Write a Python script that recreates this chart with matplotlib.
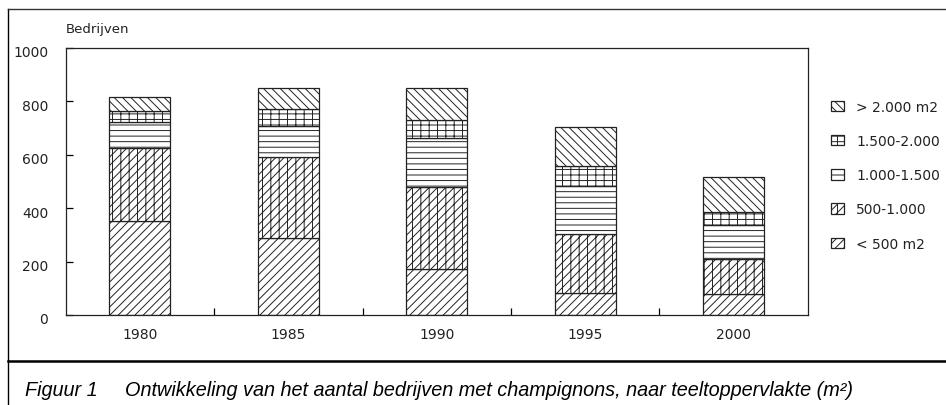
import matplotlib
matplotlib.use("Agg")
import matplotlib.pyplot as plt
from matplotlib.patches import Patch
from matplotlib.lines import Line2D
from matplotlib.transforms import ScaledTranslation
import numpy as np

years = ["1980", "1985", "1990", "1995", "2000"]
lt500 = [352, 287, 171, 84, 77]
s500_1000 = [272, 303, 310, 218, 132]
s1000_1500 = [100, 119, 181, 182, 128]
s1500_2000 = [39, 62, 70, 75, 49]
gt2000 = [55, 78, 118, 144, 131]

series = [lt500, s500_1000, s1000_1500, s1500_2000, gt2000]
labels = ["< 500 m2", "500-1.000", "1.000-1.500", "1.500-2.000", "> 2.000 m2"]
hatches = ["////", "||////", "---", "||---", "\\\\\\\\"]
yticks = [0, 200, 400, 600, 800, 1000]

plt.rcParams['hatch.linewidth'] = 0.7
plt.rcParams['hatch.color'] = '#111111'
plt.rcParams['font.family'] = ['DejaVu Sans']

W, H = 946, 406
fig = plt.figure(figsize=(W / 100, H / 100), dpi=100)

def fx(px):
    return px / W

def fy(py):
    return 1 - py / H

ax = fig.add_axes([fx(65.7), fy(316), fx(807.7) - fx(65.7), fy(49) - fy(316)])

x = np.arange(len(years))
bottom = np.zeros(len(years))
handles = []
for vals, lab, h in zip(series, labels, hatches):
    ax.bar(x, vals, width=0.41, bottom=bottom, facecolor='white',
           edgecolor='#222222', linewidth=0.9, hatch=h)
    bottom += np.array(vals)
    handles.append(Patch(facecolor='white', edgecolor='#222222',
                         linewidth=0.9, hatch=h, label=lab))

ax.set_xlim(-0.5, len(years) - 0.5)
ax.set_ylim(0, 1000)
ax.set_yticks(yticks)
ax.set_yticklabels([str(v) for v in yticks], fontsize=10, color='#222222')
ax.set_xticks(x)
ax.set_xticklabels(years, fontsize=10, color='#222222')
ax.set_xticks(x[:-1] + 0.5, minor=True)
ax.tick_params(axis='x', which='major', length=0, pad=8.5)
ax.tick_params(axis='x', which='minor', direction='in', length=5, width=0.9)
ax.tick_params(axis='y', direction='in', length=5, width=0.9, pad=12.5)
shift = ScaledTranslation(0, -3 / 100, fig.dpi_scale_trans)
for lbl in ax.get_yticklabels():
    lbl.set_transform(lbl.get_transform() + shift)
for sp in ax.spines.values():
    sp.set_linewidth(0.9)
    sp.set_color('#222222')

fig.text(fx(65.7), fy(30), "Bedrijven", fontsize=9.5, va='center', ha='left', color='#222222')

leg = fig.legend(handles[::-1], labels[::-1], loc='upper left',
                 bbox_to_anchor=(fx(831), fy(101)), frameon=False,
                 fontsize=10, handlelength=0.95, handleheight=0.75,
                 handletextpad=0.85, labelspacing=1.45, borderpad=0,
                 borderaxespad=0)
for t in leg.get_texts():
    t.set_color('#222222')

# outer frame lines
fig.add_artist(Line2D([fx(8), fx(8)], [fy(10), 0], color='black', linewidth=1.0,
                      transform=fig.transFigure))
fig.add_artist(Line2D([fx(8), 1], [fy(10), fy(10)], color='#333333', linewidth=1.0,
                      transform=fig.transFigure))
fig.add_artist(Line2D([fx(8), 1], [fy(361.7), fy(361.7)], color='black', linewidth=1.8,
                      transform=fig.transFigure))

cap_font = dict(fontsize=14.3, style='italic', family=['Liberation Sans', 'DejaVu Sans'],
                va='baseline', ha='left', color='black')
fig.text(fx(25), fy(396.5), "Figuur 1", **cap_font)
fig.text(fx(125), fy(396.5),
         "Ontwikkeling van het aantal bedrijven met champignons, naar teeltoppervlakte (m²)",
         **cap_font)

fig.savefig("out.png", dpi=100)
